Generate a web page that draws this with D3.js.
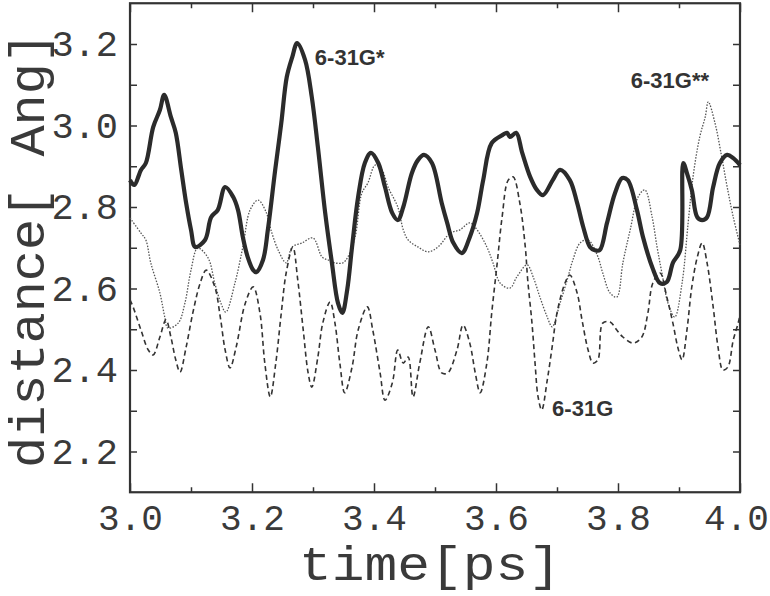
<!DOCTYPE html>
<html>
<head>
<meta charset="utf-8">
<script src="https://cdn.jsdelivr.net/npm/d3@7"></script>
<style>
  body { margin: 0; background: #fff; }
  svg { display: block; }
  .tick text { font-family: "Courier New", "Liberation Mono", monospace; fill: #3a3a3a; }
  .tick line { stroke: #333; stroke-width: 1.5; }
  .domain { display: none; }
</style>
</head>
<body>
<div id="container"></div>
<script>
// time [ps], distance [Ang]
const star = [
  [3.000,2.866],[3.007,2.854],[3.018,2.891],[3.026,2.908],[3.038,2.996],[3.049,3.038],[3.056,3.075],
  [3.067,3.021],[3.075,2.982],[3.084,2.891],[3.092,2.810],[3.100,2.744],[3.107,2.702],[3.123,2.719],
  [3.133,2.775],[3.144,2.793],[3.156,2.849],[3.169,2.825],[3.177,2.793],[3.185,2.726],[3.193,2.677],
  [3.202,2.645],[3.207,2.640],[3.218,2.670],[3.226,2.744],[3.238,2.891],[3.248,3.006],[3.257,3.119],
  [3.266,3.168],[3.274,3.202],[3.287,3.161],[3.298,3.070],[3.308,2.947],[3.320,2.785],[3.331,2.663],
  [3.341,2.564],[3.348,2.540],[3.356,2.596],[3.364,2.702],[3.374,2.825],[3.385,2.908],[3.395,2.933],
  [3.407,2.908],[3.418,2.849],[3.430,2.785],[3.439,2.768],[3.448,2.800],[3.462,2.883],[3.472,2.915],
  [3.482,2.928],[3.495,2.908],[3.511,2.810],[3.520,2.761],[3.530,2.712],[3.544,2.687],[3.557,2.726],
  [3.569,2.785],[3.579,2.866],[3.593,2.957],[3.611,2.977],[3.618,2.982],[3.623,2.972],[3.633,2.982],
  [3.643,2.933],[3.656,2.874],[3.667,2.842],[3.677,2.829],[3.693,2.866],[3.705,2.891],[3.721,2.866],
  [3.733,2.810],[3.743,2.751],[3.754,2.702],[3.762,2.694],[3.770,2.694],[3.782,2.761],[3.795,2.834],
  [3.807,2.871],[3.816,2.866],[3.831,2.793],[3.841,2.726],[3.856,2.653],[3.869,2.613],[3.880,2.616],
  [3.890,2.663],[3.902,2.694],[3.907,2.908],[3.913,2.883],[3.921,2.842],[3.930,2.775],[3.938,2.768],
  [3.946,2.775],[3.956,2.849],[3.967,2.908],[3.979,2.928],[3.989,2.920],[4.000,2.903]
];

const starStar = [
  [3.000,2.773],[3.018,2.736],[3.026,2.719],[3.034,2.663],[3.049,2.589],[3.057,2.530],[3.062,2.503],
  [3.079,2.515],[3.090,2.564],[3.100,2.645],[3.111,2.699],[3.128,2.675],[3.139,2.613],[3.149,2.564],
  [3.157,2.542],[3.172,2.613],[3.185,2.702],[3.197,2.793],[3.210,2.817],[3.223,2.788],[3.231,2.744],
  [3.243,2.694],[3.256,2.663],[3.266,2.702],[3.282,2.712],[3.300,2.724],[3.315,2.677],[3.325,2.670],
  [3.336,2.663],[3.349,2.663],[3.357,2.677],[3.369,2.726],[3.380,2.834],[3.390,2.859],[3.402,2.903],
  [3.413,2.891],[3.423,2.849],[3.439,2.800],[3.448,2.744],[3.456,2.719],[3.472,2.702],[3.489,2.690],
  [3.505,2.702],[3.525,2.736],[3.541,2.744],[3.557,2.761],[3.569,2.744],[3.585,2.702],[3.595,2.663],
  [3.607,2.613],[3.623,2.601],[3.634,2.628],[3.651,2.658],[3.661,2.628],[3.672,2.579],[3.684,2.530],
  [3.692,2.506],[3.705,2.564],[3.718,2.628],[3.726,2.670],[3.738,2.712],[3.751,2.719],[3.766,2.682],
  [3.775,2.638],[3.787,2.589],[3.798,2.579],[3.808,2.663],[3.820,2.744],[3.833,2.825],[3.844,2.842],
  [3.856,2.775],[3.864,2.702],[3.872,2.638],[3.882,2.564],[3.893,2.530],[3.905,2.613],[3.915,2.761],
  [3.923,2.874],[3.934,2.972],[3.943,3.021],[3.948,3.058],[3.959,3.006],[3.970,2.923],[3.979,2.849],
  [3.989,2.775],[4.000,2.707]
];

const plain = [
  [3.000,2.572],[3.005,2.555],[3.018,2.498],[3.030,2.449],[3.038,2.437],[3.049,2.481],[3.059,2.523],
  [3.067,2.481],[3.075,2.425],[3.082,2.395],[3.092,2.456],[3.103,2.540],[3.115,2.613],[3.125,2.645],
  [3.139,2.604],[3.148,2.530],[3.156,2.449],[3.164,2.405],[3.174,2.456],[3.189,2.564],[3.202,2.604],
  [3.213,2.540],[3.221,2.417],[3.230,2.334],[3.239,2.417],[3.248,2.540],[3.256,2.638],[3.267,2.702],
  [3.275,2.621],[3.284,2.498],[3.292,2.393],[3.298,2.358],[3.308,2.432],[3.316,2.515],[3.328,2.567],
  [3.336,2.515],[3.344,2.417],[3.352,2.344],[3.364,2.407],[3.374,2.498],[3.389,2.555],[3.398,2.498],
  [3.410,2.393],[3.418,2.326],[3.430,2.368],[3.439,2.449],[3.448,2.417],[3.456,2.432],[3.464,2.334],
  [3.475,2.417],[3.489,2.506],[3.500,2.449],[3.511,2.393],[3.521,2.393],[3.536,2.449],[3.546,2.510],
  [3.557,2.466],[3.566,2.393],[3.574,2.344],[3.585,2.417],[3.593,2.540],[3.602,2.663],[3.610,2.775],
  [3.620,2.866],[3.628,2.874],[3.639,2.810],[3.648,2.702],[3.652,2.621],[3.659,2.515],[3.664,2.417],
  [3.669,2.334],[3.675,2.302],[3.684,2.375],[3.692,2.456],[3.700,2.540],[3.713,2.613],[3.721,2.633],
  [3.733,2.589],[3.741,2.523],[3.751,2.449],[3.759,2.417],[3.767,2.425],[3.775,2.515],[3.787,2.518],
  [3.798,2.498],[3.808,2.481],[3.825,2.466],[3.839,2.481],[3.849,2.540],[3.857,2.613],[3.869,2.638],
  [3.880,2.579],[3.890,2.515],[3.898,2.456],[3.905,2.425],[3.913,2.498],[3.921,2.604],[3.930,2.677],
  [3.938,2.712],[3.946,2.663],[3.956,2.555],[3.964,2.456],[3.972,2.400],[3.980,2.407],[3.989,2.474],
  [3.997,2.515],[4.000,2.535]
];

const xMajor = [3.0, 3.2, 3.4, 3.6, 3.8, 4.0];
const xMinor = [3.1, 3.3, 3.5, 3.7, 3.9];
const yMajor = [2.2, 2.4, 2.6, 2.8, 3.0, 3.2];
const yMinor = [2.3, 2.5, 2.7, 2.9, 3.1];

const seriesLabels = [
  { name: "6-31G*", t: 3.303, d: 3.148 },
  { name: "6-31G**", t: 3.821, d: 3.092 },
  { name: "6-31G", t: 3.692, d: 2.288 }
];

const width = 770;
const height = 596;

const x = d3.scaleLinear().domain([3.0, 4.0]).range([130, 740]);
const y = d3.scaleLinear().domain([2.1, 3.3]).range([492.25, 3.25]);

const svg = d3.select("#container")
  .append("svg")
  .attr("width", width)
  .attr("height", height);

// axes, ticks inward on all four sides
const yBottom = y(2.1), yTop = y(3.3), xLeft = x(3.0), xRight = x(4.0);

const xLabels = svg.append("g")
  .attr("transform", `translate(0, ${yBottom})`)
  .call(d3.axisBottom(x).tickValues(xMajor).tickSize(-9).tickPadding(12).tickFormat(d3.format(".1f")))
  .selectAll("text").attr("font-size", 36);

// last label sits at the page edge
xLabels.filter(d => d === 4.0).attr("dx", -4);

svg.append("g")
  .attr("transform", `translate(0, ${yBottom})`)
  .call(d3.axisBottom(x).tickValues(xMinor).tickSize(-5).tickFormat(""));

svg.append("g")
  .attr("transform", `translate(0, ${yTop})`)
  .call(d3.axisTop(x).tickValues(xMajor).tickSize(-9).tickFormat(""));

svg.append("g")
  .attr("transform", `translate(0, ${yTop})`)
  .call(d3.axisTop(x).tickValues(xMinor).tickSize(-5).tickFormat(""));

svg.append("g")
  .attr("transform", `translate(${xLeft}, 0)`)
  .call(d3.axisLeft(y).tickValues(yMajor).tickSize(-7).tickPadding(12).tickFormat(d3.format(".1f")))
  .selectAll("text").attr("font-size", 37);

svg.append("g")
  .attr("transform", `translate(${xLeft}, 0)`)
  .call(d3.axisLeft(y).tickValues(yMinor).tickSize(-7).tickFormat(""));

svg.append("g")
  .attr("transform", `translate(${xRight}, 0)`)
  .call(d3.axisRight(y).tickValues(yMajor.concat(yMinor)).tickSize(-7).tickFormat(""));

svg.append("rect")
  .attr("x", xLeft)
  .attr("y", yTop)
  .attr("width", xRight - xLeft)
  .attr("height", yBottom - yTop)
  .attr("fill", "none")
  .attr("stroke", "#333")
  .attr("stroke-width", 2.2);

const line = d3.line()
  .x(d => x(d[0]))
  .y(d => y(d[1]))
  .curve(d3.curveCatmullRom.alpha(0.5));

svg.append("path")
  .datum(starStar)
  .attr("d", line)
  .attr("fill", "none")
  .attr("stroke", "#555")
  .attr("stroke-width", 1.3)
  .attr("stroke-dasharray", "1.5,1.5");

svg.append("path")
  .datum(plain)
  .attr("d", line)
  .attr("fill", "none")
  .attr("stroke", "#333")
  .attr("stroke-width", 1.6)
  .attr("stroke-dasharray", "5,3.5");

svg.append("path")
  .datum(star)
  .attr("d", line)
  .attr("fill", "none")
  .attr("stroke", "#2b2b2b")
  .attr("stroke-width", 4.2)
  .attr("stroke-linejoin", "round");

svg.selectAll(".series-label")
  .data(seriesLabels)
  .enter()
  .append("text")
  .attr("class", "series-label")
  .attr("x", d => x(d.t))
  .attr("y", d => y(d.d))
  .attr("font-family", "Arial, 'Liberation Sans', sans-serif")
  .attr("font-weight", "bold")
  .attr("font-size", 22)
  .attr("fill", "#333")
  .text(d => d.name);

// axis titles
svg.append("text")
  .attr("x", 430)
  .attr("y", 580)
  .attr("text-anchor", "middle")
  .attr("font-family", "'Courier New', 'Liberation Mono', monospace")
  .attr("font-size", 48)
  .attr("fill", "#3a3a3a")
  .attr("textLength", 262)
  .attr("lengthAdjust", "spacingAndGlyphs")
  .text("time[ps]");

svg.append("text")
  .attr("transform", "translate(44, 250) rotate(-90)")
  .attr("text-anchor", "middle")
  .attr("font-family", "'Courier New', 'Liberation Mono', monospace")
  .attr("font-size", 50)
  .attr("fill", "#3a3a3a")
  .attr("textLength", 436)
  .attr("lengthAdjust", "spacingAndGlyphs")
  .text("distance[ Ang]");
</script>
</body>
</html>
